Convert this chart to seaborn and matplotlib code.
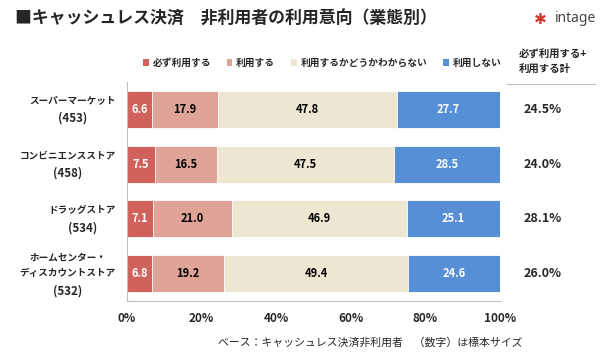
import matplotlib
matplotlib.use("Agg")
import matplotlib.pyplot as plt
import matplotlib.transforms as mtransforms
import seaborn as sns
import pandas as pd
import numpy as np
from matplotlib.patches import Patch

sns.set_theme(style="white")
plt.rcParams['font.family'] = ['Noto Sans CJK JP', 'DejaVu Sans']

category_names = ["スーパーマーケット", "コンビニエンスストア", "ドラッグストア",
                  "ホームセンター・\nディスカウントストア"]
sample_sizes = ["(453)", "(458)", "(534)", "(532)"]
series_names = ["必ず利用する", "利用する", "利用するかどうかわからない", "利用しない"]
must_use = [6.6, 7.5, 7.1, 6.8]
use = [17.9, 16.5, 21.0, 19.2]
unsure = [47.8, 47.5, 46.9, 49.4]
not_use = [27.7, 28.5, 25.1, 24.6]
totals = ["24.5%", "24.0%", "28.1%", "26.0%"]
xticks = [0, 20, 40, 60, 80, 100]
xticklabels = ["0%", "20%", "40%", "60%", "80%", "100%"]

colors = ["#D0625B", "#DFA497", "#EDE7D1", "#568FD6"]
text_colors = ["white", "black", "black", "white"]

series = [must_use, use, unsure, not_use]
cum = np.cumsum(np.array(series), axis=0)
cat_keys = [n + s for n, s in zip(category_names, sample_sizes)]

fig = plt.figure(figsize=(6, 3.6), dpi=100)
ax = fig.add_axes([127/600, 1-301/360, (500-127)/600, (301-82)/360])

for i in range(3, -1, -1):
    df = pd.DataFrame({"cat": cat_keys, "val": cum[i]})
    sns.barplot(data=df, x="val", y="cat", orient="h", color=colors[i], ax=ax,
                width=0.675, saturation=1, edgecolor="white", linewidth=0.6)

for i in range(4):
    for j in range(4):
        left = cum[i][j] - series[i][j]
        ax.text(left + series[i][j]/2, j, f"{series[i][j]:.1f}", ha="center", va="center",
                fontsize=8, fontweight="bold", color=text_colors[i])

ax.set_xlim(0, 100)
ax.set_ylim(3.5, -0.5)
ax.set_xlabel("")
ax.set_ylabel("")
ax.set_xticks(xticks)
ax.set_xticklabels(xticklabels, fontsize=8.5, fontweight="bold")
ax.set_yticks(range(4))
ax.set_yticklabels([])
ax.tick_params(axis="y", length=0)
ax.tick_params(axis="x", length=0, pad=8)
for s in ["top", "right"]:
    ax.spines[s].set_visible(False)
for s in ["left", "bottom"]:
    ax.spines[s].set_color("#BFBFBF")
    ax.spines[s].set_linewidth(0.8)
ax.set_yticks([-0.5, 0.5, 1.5, 2.5, 3.5], minor=True)
ax.tick_params(axis="y", which="minor", length=4, color="#BFBFBF", direction="out")
ax.set_xticks(xticks, minor=True)
ax.tick_params(axis="x", which="minor", length=4, color="#BFBFBF", direction="out")

# category labels: name right-aligned, sample size centered under the name
px = 1/54.75  # one pixel in data units on y
trans = mtransforms.blended_transform_factory(fig.transFigure, ax.transData)
name_texts = []
for j, name in enumerate(category_names):
    nlines = name.count("\n") + 1
    y_name = j - (8.5*px if nlines == 2 else 9*px)
    t = ax.text(116/600, y_name, name, transform=trans, ha="right", va="center",
                fontsize=6.9, fontweight="bold", multialignment="center", linespacing=1.7)
    name_texts.append((t, j, nlines))
fig.canvas.draw()
inv = fig.transFigure.inverted()
for (t, j, nlines), n in zip(name_texts, sample_sizes):
    bb = t.get_window_extent()
    xc = inv.transform(((bb.x0 + bb.x1)/2, 0))[0]
    y_num = j + (17.5*px if nlines == 2 else 9*px)
    ax.text(xc, y_num, n, transform=trans, ha="center", va="center",
            fontsize=8.3, fontweight="bold")

# right column: totals
for j, t in enumerate(totals):
    ax.text(543/600, j, t, transform=trans, ha="center", va="center",
            fontsize=9, fontweight="bold")
fig.text(519/600, 1 - 62/360, "必ず利用する+\n利用する計", ha="left", va="center",
         fontsize=7.5, fontweight="bold", linespacing=1.5)
fig.add_artist(plt.Line2D([507/600, 595/600], [1-84/360, 1-84/360], color="#BFBFBF", lw=0.8))

# legend
handles = [Patch(facecolor=c, edgecolor="none") for c in colors]
fig.legend(handles, series_names, loc="center", bbox_to_anchor=(322/600, 1-63/360), ncol=4,
           frameon=False, handlelength=0.6, handleheight=0.6,
           handletextpad=0.4, columnspacing=1.6, prop={"weight": "bold", "size": 7})

# title
fig.text(15/600, 1-19/360, "■キャッシュレス決済　非利用者の利用意向（業態別）", ha="left", va="center",
         fontsize=12.2, fontweight="bold")
fig.text(596/600, 1-19/360, "intage", ha="right", va="center", fontsize=10, color="#444444",
         family=["Noto Sans", "DejaVu Sans"])
fig.text(547/600, 1-19/360, "✱", ha="right", va="center", fontsize=11, color="#D23A2E",
         family=["DejaVu Sans"])

# footnote
fig.text(370/600, 1-342/360, "ベース：キャッシュレス決済非利用者　（数字）は標本サイズ", ha="center",
         va="center", fontsize=7.8)

fig.savefig("out.png", dpi=100)
